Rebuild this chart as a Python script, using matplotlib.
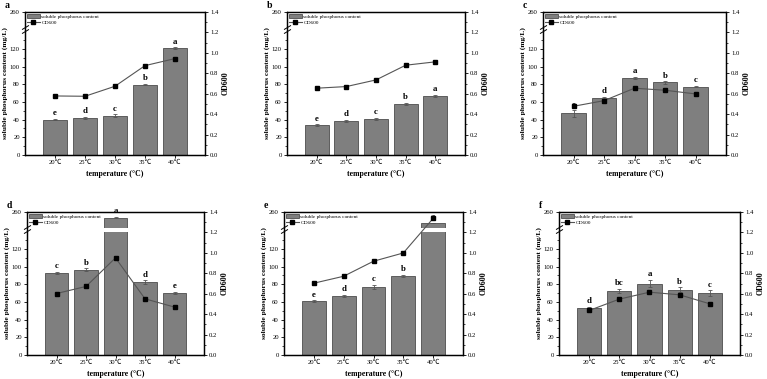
import numpy as np
import matplotlib
matplotlib.use("Agg")
import matplotlib.pyplot as plt
from matplotlib.scale import FuncScale

plt.rcParams['font.family'] = ['Liberation Serif', 'Noto Sans CJK SC']
plt.rcParams['axes.linewidth'] = 0.9

# categories
temps = ['20℃', '25℃', '30℃', '35℃', '40℃']
panels = ['a', 'b', 'c', 'd', 'e', 'f']

# soluble phosphorus content (mg/L)
sp_a = [40, 42.3, 44.5, 79.6, 120.5]
sp_b = [33.5, 38.6, 40.8, 58, 66.8]
sp_c = [47, 64, 87, 82, 77.3]
sp_d = [92.7, 96.5, 222, 82.2, 70.4]
sp_e = [60.6, 67, 76.9, 89.5, 185]
sp_f = [53.5, 72.6, 80.5, 73.8, 70]

err_a = [1.0, 1.2, 1.5, 1.0, 1.0]
err_b = [1.2, 1.0, 1.0, 1.2, 1.0]
err_c = [3.5, 1.5, 1.0, 1.2, 1.0]
err_d = [1.0, 1.5, 4.0, 2.0, 1.0]
err_e = [1.2, 1.0, 2.0, 1.0, 3.0]
err_f = [1.0, 2.5, 4.0, 2.5, 3.0]

# OD600
od_a = [0.578, 0.575, 0.673, 0.875, 0.944]
od_b = [0.654, 0.670, 0.735, 0.879, 0.912]
od_c = [0.477, 0.532, 0.654, 0.634, 0.598]
od_d = [0.602, 0.671, 0.951, 0.550, 0.469]
od_e = [0.703, 0.771, 0.918, 0.999, 1.338]
od_f = [0.436, 0.547, 0.615, 0.589, 0.501]

# significance letters
let_a = ['e', 'd', 'c', 'b', 'a']
let_b = ['e', 'd', 'c', 'b', 'a']
let_c = ['e', 'd', 'a', 'b', 'c']
let_d = ['c', 'b', 'a', 'd', 'e']
let_e = ['e', 'd', 'c', 'b', 'a']
let_f = ['d', 'bc', 'a', 'b', 'c']

sp_all = [sp_a, sp_b, sp_c, sp_d, sp_e, sp_f]
err_all = [err_a, err_b, err_c, err_d, err_e, err_f]
od_all = [od_a, od_b, od_c, od_d, od_e, od_f]
let_all = [let_a, let_b, let_c, let_d, let_e, let_f]

# axes boxes in pixels: left, top, right, bottom
boxes = [(25, 12, 205, 155), (287, 12, 465, 155), (543, 12, 726, 155),
         (27, 212, 204, 355), (284, 212, 463, 355), (559, 212, 740, 355)]

W, H = 767, 379
BRK = 142.0                      # broken axis position (mg/L)
TOP = 260.0
K = 19.6 / (TOP - BRK)           # compression of upper segment


def fwd(y):
    y = np.asarray(y, dtype=float)
    return np.where(y <= BRK, y, BRK + (y - BRK) * K)


def inv(d):
    d = np.asarray(d, dtype=float)
    return np.where(d <= BRK, d, BRK + (d - BRK) / K)


BAR_C = '#7f7f7f'
EDGE_C = '#4d4d4d'

fig = plt.figure(figsize=(W / 100, H / 100), dpi=100)

for i, (l, t, r, b) in enumerate(boxes):
    ax = fig.add_axes([l / W, 1 - b / H, (r - l) / W, (b - t) / H])
    ax.set_yscale(FuncScale(ax, (fwd, inv)))
    x = np.arange(len(temps))
    sp = sp_all[i]
    er = err_all[i]

    ax.bar(x, sp, width=0.8, color=BAR_C, edgecolor=EDGE_C, linewidth=0.6,
           label='soluble phosphorus content', zorder=2)
    ax.errorbar(x, sp, yerr=er, fmt='none', ecolor='#555555', elinewidth=0.6,
                capsize=1.2, capthick=0.6, zorder=3)
    # white gap across bars that pass the break
    for xi, v in zip(x, sp):
        if v > BRK:
            ax.bar(xi, 148 - 139, bottom=139, width=0.86, color='white',
                   edgecolor='none', zorder=3)
    for xi, v, e, s in zip(x, sp, er, let_all[i]):
        yy = inv(fwd(v + e) + 2.0)
        ax.text(xi, yy, s, ha='center', va='bottom', fontsize=6.3,
                fontweight='bold', zorder=5)

    ax.set_xlim(-1, 5)
    ax.set_ylim(0, TOP)
    ax.set_yticks([0, 20, 40, 60, 80, 100, 120, 260])
    ax.set_yticks(np.arange(10, 140, 20), minor=True)
    ax.set_xticks(x)
    ax.set_xticklabels(temps)
    ax.tick_params(axis='both', which='major', labelsize=4.8, length=2.2,
                   width=0.6, direction='out', pad=1.5)
    ax.tick_params(axis='y', which='minor', length=1.3, width=0.5)
    ax.set_ylabel('soluble phosphorus content (mg/L)', fontsize=5.4,
                  fontweight='bold', labelpad=1.5)
    ax.set_xlabel('temperature (°C)', fontsize=5.6, fontweight='bold',
                  labelpad=3)

    # break marks on left spine
    for dy in (-0.012, 0.012):
        ax.plot([0], [0.88 + dy], transform=ax.transAxes, marker=[(-1, -0.6), (1, 0.6)],
                markersize=5, color='black', mew=0.7, clip_on=False, zorder=6)

    ax2 = ax.twinx()
    ax2.plot(x, od_all[i], color='#555555', lw=0.8, marker='s', ms=2.6,
             mfc='black', mec='black', label='OD600', zorder=4)
    ax2.set_ylim(0, 1.4)
    ax2.set_yticks(np.arange(0, 1.41, 0.2))
    ax2.set_yticks(np.arange(0.1, 1.4, 0.2), minor=True)
    ax2.yaxis.set_major_formatter(plt.FormatStrFormatter('%.1f'))
    ax2.tick_params(axis='y', which='major', labelsize=4.8, length=2.2,
                    width=0.6, pad=1.5)
    ax2.tick_params(axis='y', which='minor', length=1.3, width=0.5)
    ax2.set_ylabel('OD600', fontsize=5.8, fontweight='bold', labelpad=2)

    h1, l1 = ax.get_legend_handles_labels()
    h2, l2 = ax2.get_legend_handles_labels()
    ax.legend(h1 + h2, l1 + l2, loc='upper left', frameon=False, fontsize=3.8,
              handlelength=2.4, handleheight=0.9, borderaxespad=0.2,
              labelspacing=0.15, handletextpad=0.3, borderpad=0.2)

    fig.text((l - 20) / W, 1 - (t - 7) / H, panels[i], fontsize=7,
             fontweight='bold', ha='left', va='center')

fig.savefig('out.png', dpi=100)
